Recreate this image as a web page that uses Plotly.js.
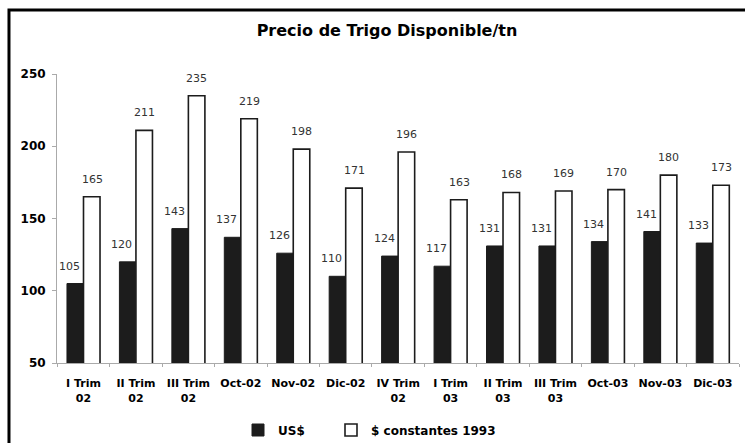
<!DOCTYPE html>
<html>
<head>
<meta charset="utf-8">
<script src="https://cdn.plot.ly/plotly-3.0.1.min.js"></script>
<style>
html,body{margin:0;padding:0;background:#fff;}
#chart{width:745px;height:443px;}
</style>
</head>
<body>
<div id="chart"></div>
<script>
const categories = ["I Trim<br>02","II Trim<br>02","III Trim<br>02","Oct-02","Nov-02","Dic-02","IV Trim<br>02","I Trim<br>03","II Trim<br>03","III Trim<br>03","Oct-03","Nov-03","Dic-03"];
const usd = [105,120,143,137,126,110,124,117,131,131,134,141,133];
const constantes1993 = [165,211,235,219,198,171,196,163,168,169,170,180,173];
const seriesNames = ["US$","$ constantes 1993"];
const chartTitle = "Precio de Trigo Disponible/tn";

const boldFam = "DejaVu Sans, Liberation Sans, sans-serif";
const labelFont = {family: "DejaVu Sans, sans-serif", size: 11, color: "#333"};

const traces = [
  {
    type: "bar", name: seriesNames[0], x: categories, y: usd, legend: "legend",
    marker: {color: "#1c1c1c", line: {color: "#1c1c1c", width: 1}}
  },
  {
    type: "bar", name: seriesNames[1], x: categories, y: constantes1993, legend: "legend2",
    marker: {color: "#ffffff", line: {color: "#1c1c1c", width: 1.6}}
  }
];

// value labels, positioned from the data through the axes
const annotations = [];
categories.forEach((c, i) => {
  annotations.push({x: c, y: usd[i], xref: "x", yref: "y", text: String(usd[i]),
    showarrow: false, yanchor: "bottom", xanchor: "center", xshift: -14, yshift: 9, font: labelFont});
  annotations.push({x: c, y: constantes1993[i], xref: "x", yref: "y", text: String(constantes1993[i]),
    showarrow: false, yanchor: "bottom", xanchor: "center", xshift: 8.5, yshift: 9, font: labelFont});
});

const legendFont = {family: boldFam, size: 12, color: "#000", weight: "bold"};

const layout = {
  width: 745, height: 443,
  margin: {l: 57, r: 6, t: 74, b: 80},
  paper_bgcolor: "#fff", plot_bgcolor: "#fff",
  title: {text: chartTitle, x: 387/745, xanchor: "center", xref: "container",
          y: 1 - 30/443, yanchor: "middle", yref: "container",
          font: {family: boldFam, size: 16, color: "#000", weight: "bold"}},
  barmode: "group", bargap: 0.37, bargroupgap: 0,
  showlegend: true,
  legend: {orientation: "h", xref: "container", yref: "container",
           x: 238/745, xanchor: "left", y: 1 - 430/443, yanchor: "middle",
           font: legendFont, bgcolor: "rgba(0,0,0,0)"},
  legend2: {orientation: "h", xref: "container", yref: "container",
           x: 331/745, xanchor: "left", y: 1 - 430/443, yanchor: "middle",
           font: legendFont, bgcolor: "rgba(0,0,0,0)"},
  xaxis: {
    type: "category", showline: true, linecolor: "#aaa", linewidth: 1,
    ticks: "outside", tickson: "boundaries", ticklen: 3, tickcolor: "#aaa",
    showgrid: false, tickangle: 0, automargin: false, ticklabelstandoff: 10,
    tickfont: {family: boldFam, size: 11, color: "#000", weight: "bold"}
  },
  yaxis: {
    range: [50, 250], tickvals: [50,100,150,200,250], showline: true, linecolor: "#aaa", linewidth: 1,
    ticks: "outside", ticklen: 4, tickcolor: "#aaa", showgrid: false, zeroline: false,
    automargin: false, ticklabelstandoff: 4,
    tickfont: {family: boldFam, size: 12, color: "#000", weight: "bold"}
  },
  annotations: annotations,
  shapes: [
    {type: "rect", xref: "paper", yref: "paper", x0: -0.0704, x1: 1.05, y0: -0.35, y1: 1.2215,
     line: {color: "#000", width: 3}, fillcolor: "rgba(0,0,0,0)", layer: "above"}
  ]
};

Plotly.newPlot("chart", traces, layout, {displayModeBar: false, staticPlot: true});
</script>
</body>
</html>
